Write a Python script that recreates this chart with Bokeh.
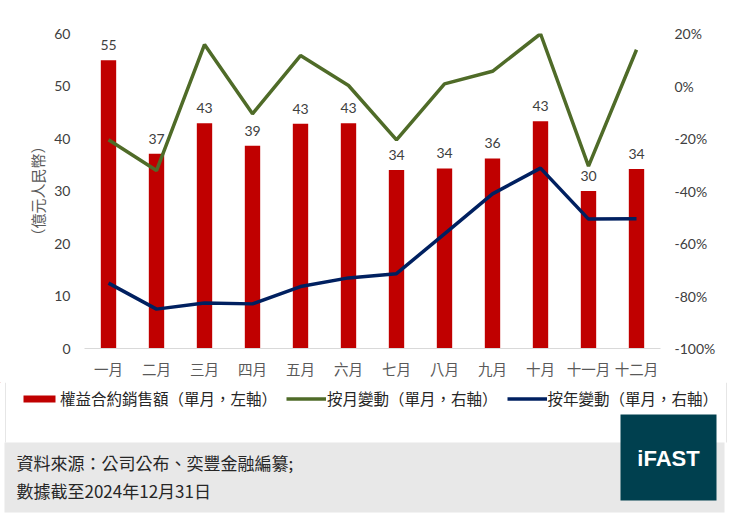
from bokeh.plotting import figure
from bokeh.layouts import column
from bokeh.models import (ColumnDataSource, Range1d, LinearAxis, PrintfTickFormatter,
                          FixedTicker, Legend, LegendItem)
from bokeh.embed import file_html
from bokeh.resources import INLINE
from bokeh.core.properties import value

# ---------------- data ----------------
months = ["一月", "二月", "三月", "四月", "五月", "六月",
          "七月", "八月", "九月", "十月", "十一月", "十二月"]
sales = [54.9, 37.1, 42.9, 38.6, 42.8, 42.9, 34.0, 34.3, 36.2, 43.3, 30.0, 34.2]
sales_labels = ["55", "37", "43", "39", "43", "43", "34", "34", "36", "43", "30", "34"]
mom_pct = [-20.5, -32.2, 15.8, -10.6, 11.6, 0.2, -20.5, 0.8, 5.6, 19.9, -30.5, 13.8]
yoy_pct = [-75.1, -85.0, -82.7, -83.0, -76.4, -73.1, -71.5, -56.3, -41.1, -31.3, -50.7, -50.6]
left_ticks = [0, 10, 20, 30, 40, 50, 60]
right_ticks = [-100, -80, -60, -40, -20, 0, 20]

legend_labels = ["權益合約銷售額（單月，左軸）", "按月變動（單月，右軸）", "按年變動（單月，右軸）"]
y_axis_title = "（億元人民幣）"
source_note = "資料來源：公司公布、奕豐金融編纂;"
date_note = "數據截至2024年12月31日"
brand = "iFAST"

BAR_COLOR = "#C00000"
MOM_COLOR = "#4F6B28"
YOY_COLOR = "#002060"
TICK_COLOR = "#404040"

# ---------------- layout constants (page pixels) ----------------
W = 732
FL, FT, FW, FH = 84, 33, 576, 315
MAIN_H = 382
TOTAL_H = 514

src = ColumnDataSource(dict(m=months, s=sales, lbl=sales_labels, mom=mom_pct, yoy=yoy_pct))

p = figure(x_range=months, y_range=Range1d(0, 60),
           frame_width=FW, frame_height=FH,
           min_border_left=FL, min_border_right=W - FL - FW,
           min_border_top=FT, min_border_bottom=MAIN_H - FT - FH,
           output_backend="svg", toolbar_location=None)
p.extra_y_ranges = {"pct": Range1d(-100, 20)}
p.grid.visible = False
p.outline_line_color = None

# left axis
ya = p.yaxis[0]
ya.ticker = FixedTicker(ticks=left_ticks)
ya.axis_line_color = None
ya.major_tick_line_color = None
ya.minor_tick_line_color = None
ya.major_tick_out = 0
ya.major_tick_in = 0
ya.major_label_text_font = "Lato"
ya.major_label_text_font_size = "14px"
ya.major_label_text_color = TICK_COLOR
ya.major_label_standoff = 14
ya.axis_label = y_axis_title
ya.axis_label_text_font = "Noto Sans CJK TC"
ya.axis_label_text_font_size = "15px"
ya.axis_label_text_font_style = "normal"
ya.axis_label_text_color = "#595959"
ya.axis_label_standoff = 3

# right axis
ra = LinearAxis(y_range_name="pct", ticker=FixedTicker(ticks=right_ticks),
                formatter=PrintfTickFormatter(format="%d%%"))
ra.axis_line_color = None
ra.major_tick_line_color = None
ra.minor_tick_line_color = None
ra.major_tick_out = 0
ra.major_tick_in = 0
ra.major_label_text_font = "Lato"
ra.major_label_text_font_size = "14px"
ra.major_label_text_color = TICK_COLOR
ra.major_label_standoff = 14
p.add_layout(ra, "right")

# x axis
xa = p.xaxis[0]
xa.axis_line_color = "#D9D9D9"
xa.axis_line_width = 1
xa.major_tick_line_color = None
xa.minor_tick_line_color = None
xa.major_tick_out = 0
xa.major_tick_in = 0
xa.major_label_text_font = "Noto Sans CJK TC"
xa.major_label_text_font_size = "14.5px"
xa.major_label_text_color = "#595959"
xa.major_label_standoff = 9

# glyphs
p.vbar(x="m", top="s", width=0.32, source=src, fill_color=BAR_COLOR, line_color=None)
p.line(x="m", y="mom", y_range_name="pct", source=src, line_color=MOM_COLOR, line_width=3.5)
p.line(x="m", y="yoy", y_range_name="pct", source=src, line_color=YOY_COLOR, line_width=3.5)
p.text(x="m", y="s", text="lbl", source=src, text_align="center", text_baseline="bottom",
       y_offset=-10, text_font=value("Lato"), text_font_size="14px", text_color=TICK_COLOR)

# ---------------- footer: legend + notes + brand ----------------
f = figure(width=W, height=TOTAL_H - MAIN_H,
           x_range=Range1d(0, W), y_range=Range1d(TOTAL_H, MAIN_H),
           min_border=0, x_axis_location=None, y_axis_location=None,
           output_backend="svg", toolbar_location=None)
f.grid.visible = False
f.outline_line_color = None

for plot in (p, f):
    try:
        plot.frame_align = False
    except Exception:
        pass

f.quad(left=[4], right=[724], top=[442], bottom=[512], fill_color="#E8E8E8", line_color=None)
f.segment(x0=[5, 726], y0=[MAIN_H, MAIN_H], x1=[5, 726], y1=[442, 442],
          line_color="#E6E6E6", line_width=1)
f.quad(left=[620], right=[716], top=[414], bottom=[500], fill_color="#00404F", line_color=None)
f.text(x=[668], y=[458], text=[brand], text_align="center", text_baseline="middle",
       text_font=value("Liberation Sans"), text_font_style="bold", text_font_size="22px",
       text_color="white")
f.text(x=[16, 16], y=[461.5, 490], text=[source_note, date_note], text_align="left",
       text_baseline="middle", text_font=value("Noto Sans CJK TC"), text_font_size="17px",
       text_color="#262626")

# legend key renderers: placed outside the footer's visible range,
# used only so that the legend can draw its swatches
key_src = ColumnDataSource(dict(x=[-100, -90], y=[-100, -100]))
lg_bar = f.vbar(x="x", top="y", width=1, source=key_src, fill_color=BAR_COLOR, line_color=None)
lg_mom = f.line(x="x", y="y", source=key_src, line_color=MOM_COLOR, line_width=3.5)
lg_yoy = f.line(x="x", y="y", source=key_src, line_color=YOY_COLOR, line_width=3.5)

legend = Legend(items=[LegendItem(label=legend_labels[0], renderers=[lg_bar]),
                       LegendItem(label=legend_labels[1], renderers=[lg_mom]),
                       LegendItem(label=legend_labels[2], renderers=[lg_yoy])],
                orientation="horizontal", location=(19, TOTAL_H - 409))
legend.label_text_font = "Noto Sans CJK TC"
legend.label_text_font_size = "15.5px"
legend.label_text_color = "#262626"
legend.glyph_width = 40
legend.glyph_height = 9
legend.label_standoff = 1
legend.spacing = 9
legend.padding = 0
legend.margin = 0
legend.border_line_color = None
legend.background_fill_alpha = 0
f.add_layout(legend)

open("out.html", "w").write(file_html(column(p, f), INLINE))
